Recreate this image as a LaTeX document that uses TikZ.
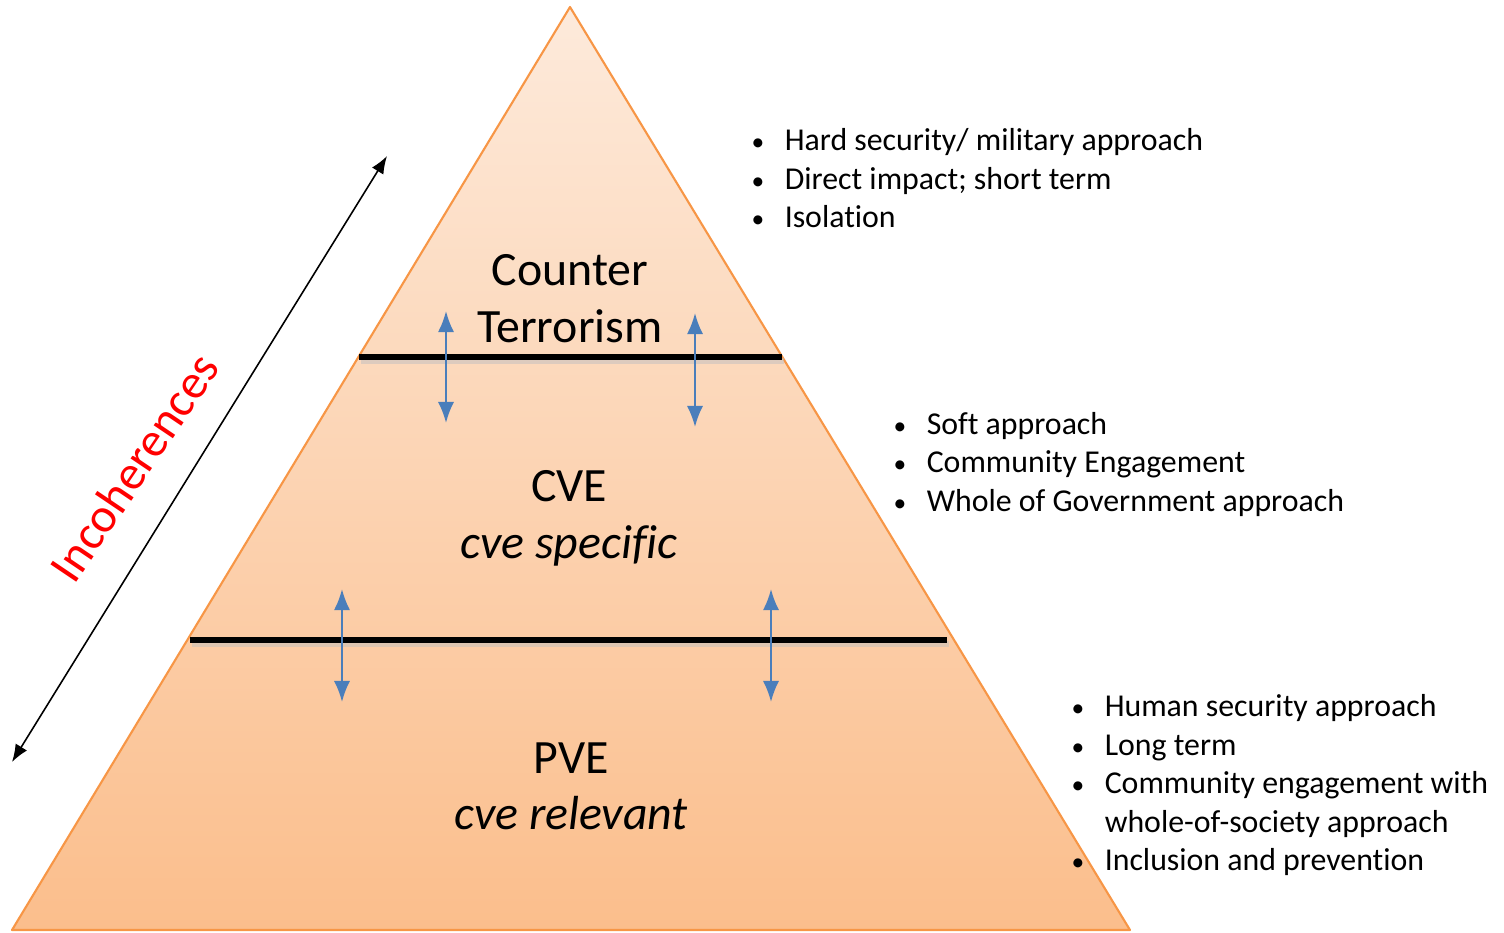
\documentclass[tikz,border=0pt]{standalone}
\usepackage{fontspec}
\setmainfont{Carlito}[Ligatures={NoCommon}]
\usetikzlibrary{arrows.meta}
\definecolor{pyredge}{HTML}{F79646}
\definecolor{pyrtop}{HTML}{FDEADB}
\definecolor{pyrbottom}{HTML}{FBBE8C}
\definecolor{flowblue}{HTML}{4A7EBB}
\tikzset{
  leveltext/.style={font=\fontsize{13.6}{16}\selectfont, anchor=base, inner sep=0pt},
  bullettext/.style={font=\fontsize{9.05}{11}\selectfont, anchor=base west, inner sep=0pt},
  divider/.style={line width=1.7pt, line cap=butt},
  flow/.style={{Latex[length=6pt,width=4.6pt]}-{Latex[length=6pt,width=4.6pt]}, flowblue, line width=0.6pt},
  span/.style={{Latex[length=5pt,width=3.8pt]}-{Latex[length=5pt,width=3.8pt]}, line width=0.45pt},
}
\newcommand{\bul}{\makebox[9.4pt][l]{\scalebox{0.8}{\textbullet}}}

\begin{document}
\begin{tikzpicture}[x=0.01cm, y=-0.01cm]
        \useasboundingbox (0,0) rectangle (1504,932);
        % pyramid
        \coordinate (apex) at (570,7);
        \coordinate (bl) at (12,930);
        \coordinate (br) at (1130,930);
        \shade[top color=pyrtop, bottom color=pyrbottom] (apex) -- (bl) -- (br) -- cycle;
        \draw[pyredge, line width=0.6pt, line join=round] (apex) -- (bl) -- (br) -- cycle;

        % dividers
        \coordinate (d1l) at (359,357);
        \coordinate (d1r) at (782,357);
        \coordinate (d2l) at (190,640);
        \coordinate (d2r) at (947,640);
        \draw[divider, black!25, opacity=0.5] ([shift={(2,4)}]d1l) -- ([shift={(2,4)}]d1r);
        \draw[divider, black!25, opacity=0.5] ([shift={(2,4)}]d2l) -- ([shift={(2,4)}]d2r);
        \draw[divider] (d1l) -- (d1r);
        \draw[divider] (d2l) -- (d2r);

        % level labels
        \node[leveltext] (ct1) at (570,285) {Counter};
        \node[leveltext] (ct2) at (570,342) {Terrorism};
        \node[leveltext] (cve1) at (569,501) {CVE};
        \node[leveltext] (cve2) at (569,558) {\itshape cve specific};
        \node[leveltext] (pve1) at (571,773) {PVE};
        \node[leveltext] (pve2) at (571,829) {\itshape cve relevant};

        % exchanges between levels
        \coordinate (a1t) at (446,311);
        \coordinate (a1b) at (446,423);
        \coordinate (a2t) at (695,313);
        \coordinate (a2b) at (695,427);
        \coordinate (a3t) at (342,589);
        \coordinate (a3b) at (342,702);
        \coordinate (a4t) at (771,589);
        \coordinate (a4b) at (771,702);
        \draw[flow] (a1t) -- (a1b);
        \draw[flow] (a2t) -- (a2b);
        \draw[flow] (a3t) -- (a3b);
        \draw[flow] (a4t) -- (a4b);

        % incoherences
        \coordinate (spantop) at (387,156);
        \coordinate (spanbot) at (12,762);
        \draw[span] (spanbot) -- (spantop);
        \node[font=\fontsize{13.8}{16}\selectfont, text=red, rotate=56, inner sep=0pt] (incoh) at (134,467) {Incoherences};

        % descriptions
        \node[bullettext] (ctb1) at (751,150) {\bul Hard security/ military approach};
        \node[bullettext] (ctb2) at (751,189) {\bul Direct impact; short term};
        \node[bullettext] (ctb3) at (751,227) {\bul Isolation};
        \node[bullettext] (cveb1) at (893,434) {\bul Soft approach};
        \node[bullettext] (cveb2) at (893,472) {\bul Community Engagement};
        \node[bullettext] (cveb3) at (893,511) {\bul Whole of Government approach};
        \node[bullettext] (pveb1) at (1071,716) {\bul Human security approach};
        \node[bullettext] (pveb2) at (1071,755) {\bul Long term};
        \node[bullettext] (pveb3) at (1071,793) {\bul Community engagement with};
        \node[bullettext] (pveb4) at (1071,832) {\makebox[9.4pt]{}whole-of-society approach};
        \node[bullettext] (pveb5) at (1071,870) {\bul Inclusion and prevention};
\end{tikzpicture}
\end{document}
